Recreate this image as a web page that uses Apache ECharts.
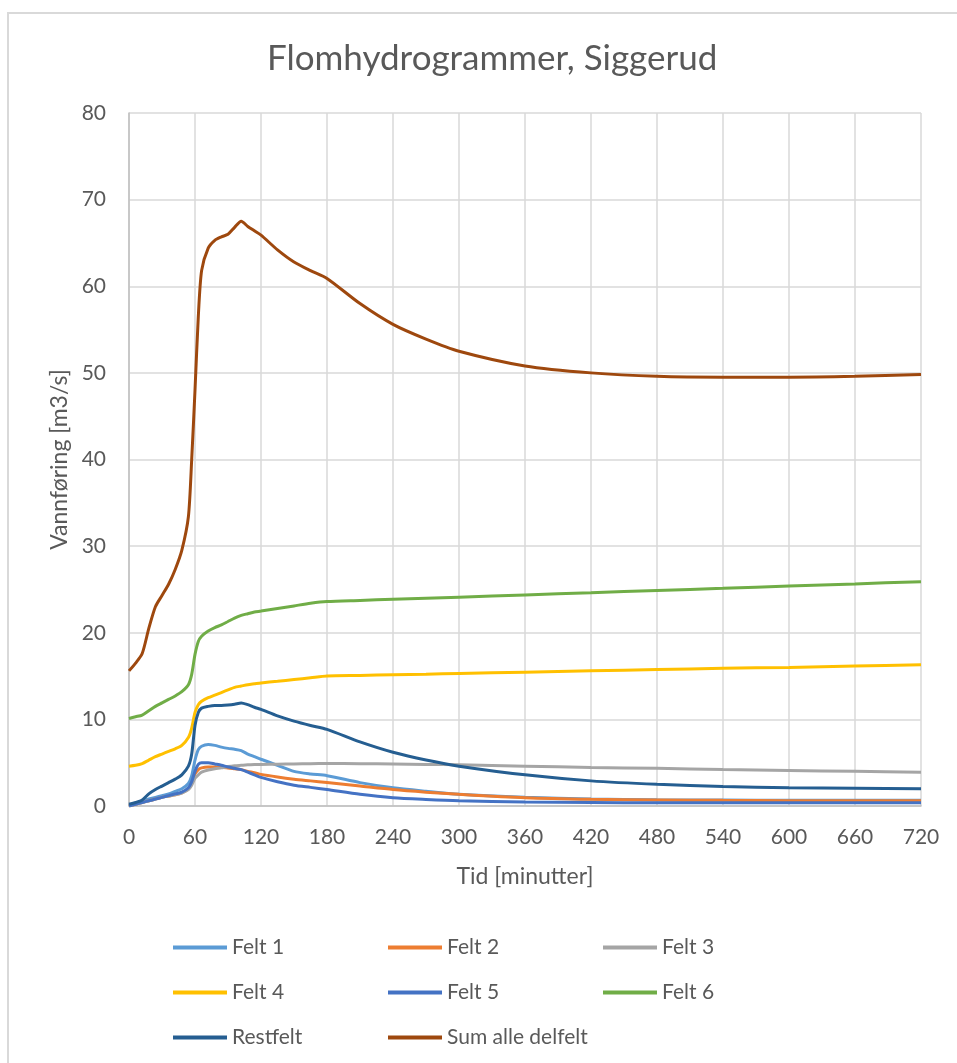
<!DOCTYPE html>
<html>
<head>
<meta charset="utf-8">
<script src="https://cdn.jsdelivr.net/npm/echarts@6/dist/echarts.min.js"></script>
<style>
html,body{margin:0;padding:0;background:#fff;}
#c{width:957px;height:1063px;}
</style>
</head>
<body>
<div id="c"></div>
<script>
const times = [0, 6, 12, 18, 24, 30, 36, 42, 48, 54, 57, 60, 63, 66, 72, 78, 84, 90, 96, 102, 108, 114, 120, 135, 150, 165, 180, 210, 240, 270, 300, 360, 420, 480, 540, 600, 660, 720];

const felt1 = [0.1, 0.3, 0.6, 0.8, 1.0, 1.2, 1.4, 1.7, 2.0, 2.6, 3.5, 5.3, 6.5, 6.9, 7.1, 7.0, 6.8, 6.65, 6.55, 6.4, 6.0, 5.7, 5.4, 4.7, 4.0, 3.7, 3.5, 2.7, 2.1, 1.7, 1.35, 1.0, 0.8, 0.72, 0.68, 0.66, 0.65, 0.65];
const felt2 = [0, 0.2, 0.4, 0.6, 0.8, 1.0, 1.15, 1.3, 1.5, 2.0, 2.6, 3.7, 4.2, 4.4, 4.5, 4.5, 4.45, 4.4, 4.3, 4.2, 4.0, 3.85, 3.65, 3.35, 3.1, 2.9, 2.7, 2.3, 1.9, 1.6, 1.35, 0.95, 0.77, 0.7, 0.65, 0.62, 0.6, 0.6];
const felt3 = [0, 0.2, 0.4, 0.6, 0.8, 1.0, 1.15, 1.3, 1.5, 1.9, 2.4, 3.2, 3.6, 3.9, 4.15, 4.3, 4.4, 4.55, 4.65, 4.7, 4.75, 4.78, 4.8, 4.82, 4.85, 4.88, 4.9, 4.88, 4.85, 4.8, 4.75, 4.6, 4.45, 4.35, 4.2, 4.1, 4.0, 3.9];
const felt4 = [4.6, 4.7, 4.9, 5.3, 5.7, 6.0, 6.3, 6.6, 7.0, 7.9, 9.0, 10.8, 11.7, 12.1, 12.5, 12.8, 13.1, 13.4, 13.7, 13.85, 14.0, 14.1, 14.2, 14.4, 14.6, 14.8, 15.0, 15.07, 15.15, 15.22, 15.3, 15.45, 15.6, 15.75, 15.9, 16.0, 16.15, 16.3];
const felt5 = [0, 0.2, 0.4, 0.6, 0.8, 1.0, 1.2, 1.4, 1.6, 2.1, 2.8, 4.0, 4.8, 5.0, 5.0, 4.85, 4.7, 4.5, 4.35, 4.2, 3.9, 3.6, 3.3, 2.8, 2.4, 2.15, 1.9, 1.35, 0.95, 0.75, 0.6, 0.45, 0.4, 0.38, 0.37, 0.37, 0.37, 0.37];
const felt6 = [10.1, 10.3, 10.5, 11.0, 11.5, 11.9, 12.3, 12.7, 13.2, 14.0, 15.2, 17.5, 19.0, 19.6, 20.2, 20.6, 20.9, 21.3, 21.7, 22.0, 22.2, 22.4, 22.5, 22.8, 23.1, 23.4, 23.6, 23.73, 23.86, 23.98, 24.11, 24.37, 24.62, 24.88, 25.13, 25.39, 25.64, 25.9];
const restfelt = [0.2, 0.4, 0.7, 1.4, 1.9, 2.3, 2.7, 3.1, 3.6, 4.6, 6.0, 9.3, 10.8, 11.3, 11.5, 11.6, 11.6, 11.65, 11.75, 11.9, 11.7, 11.4, 11.15, 10.4, 9.8, 9.3, 8.85, 7.4, 6.2, 5.3, 4.6, 3.6, 2.9, 2.5, 2.25, 2.1, 2.05, 2.0];
const sumAlle = [15.6, 16.5, 17.6, 20.5, 23.0, 24.3, 25.6, 27.3, 29.5, 33.4, 40.0, 48.0, 56.5, 61.8, 64.4, 65.3, 65.7, 66.0, 66.8, 67.5, 66.9, 66.4, 65.9, 64.2, 62.8, 61.8, 60.9, 58.0, 55.6, 53.9, 52.5, 50.8, 50.0, 49.6, 49.5, 49.5, 49.6, 49.8];

const seriesNames = ['Felt 1', 'Felt 2', 'Felt 3', 'Felt 4', 'Felt 5', 'Felt 6', 'Restfelt', 'Sum alle delfelt'];
const seriesData = [felt1, felt2, felt3, felt4, felt5, felt6, restfelt, sumAlle];
const colors = ['#5B9BD5', '#ED7D31', '#A5A5A5', '#FFC000', '#4472C4', '#70AD47', '#255E91', '#9E480E'];

const xTicks = [0, 60, 120, 180, 240, 300, 360, 420, 480, 540, 600, 660, 720];
const yTicks = [0, 10, 20, 30, 40, 50, 60, 70, 80];

const FONT = 'Lato, "Open Sans", sans-serif';
const TXT = '#595959';

const chart = echarts.init(document.getElementById('c'), null, {renderer: 'canvas'});

const series = seriesNames.map((n, i) => ({
  name: n,
  type: 'line',
  data: times.map((t, k) => [t, seriesData[i][k]]),
  showSymbol: false,
  symbol: 'none',
  smooth: 0.25,
  lineStyle: {width: 3, color: colors[i]},
  itemStyle: {color: colors[i]},
  z: 2 + i
}));

const legendCommon = {
  orient: 'vertical',
  top: 932,
  itemWidth: 54,
  itemHeight: 4,
  itemGap: 24,
  icon: 'rect',
  textStyle: {fontFamily: FONT, fontSize: 21, color: TXT}
};

chart.setOption({
  animation: false,
  backgroundColor: '#ffffff',
  color: colors,
  title: {
    text: 'Flomhydrogrammer, Siggerud',
    left: 262,
    top: 36,
    textStyle: {fontFamily: FONT, fontSize: 35, fontWeight: 'normal', color: TXT}
  },
  graphic: [
    {type: 'polyline', shape: {points: [[8, 1063], [8, 13], [957, 13]]}, style: {stroke: '#d9d9d9', lineWidth: 2, fill: null}, silent: true}
  ],
  legend: [
    Object.assign({}, legendCommon, {left: 168, data: ['Felt 1', 'Felt 4', 'Restfelt']}),
    Object.assign({}, legendCommon, {left: 383, data: ['Felt 2', 'Felt 5', 'Sum alle delfelt']}),
    Object.assign({}, legendCommon, {left: 598, data: ['Felt 3', 'Felt 6']})
  ],
  grid: {left: 129, right: 36, top: 113, bottom: 257, containLabel: false},
  xAxis: {
    type: 'value',
    min: 0, max: 720, interval: 60,
    name: 'Tid [minutter]',
    nameLocation: 'middle',
    nameGap: 59,
    nameTextStyle: {fontFamily: FONT, fontSize: 23, color: TXT},
    axisLine: {show: true, lineStyle: {color: '#bfbfbf', width: 1.5}},
    axisTick: {show: false},
    axisLabel: {fontFamily: FONT, fontSize: 21, color: TXT, margin: 21,
      formatter: v => xTicks.includes(v) ? String(v) : ''},
    splitLine: {show: true, lineStyle: {color: '#d9d9d9', width: 1.5}}
  },
  yAxis: {
    type: 'value',
    min: 0, max: 80, interval: 10,
    name: 'Vannføring [m3/s]',
    nameLocation: 'middle',
    nameGap: 57,
    nameTextStyle: {fontFamily: FONT, fontSize: 23, color: TXT},
    axisLine: {show: true, lineStyle: {color: '#bfbfbf', width: 1.5}},
    axisTick: {show: false},
    axisLabel: {fontFamily: FONT, fontSize: 21, color: TXT, margin: 23,
      formatter: v => yTicks.includes(v) ? String(v) : ''},
    splitLine: {show: true, lineStyle: {color: '#d9d9d9', width: 1.5}}
  },
  series: series
});
</script>
</body>
</html>
